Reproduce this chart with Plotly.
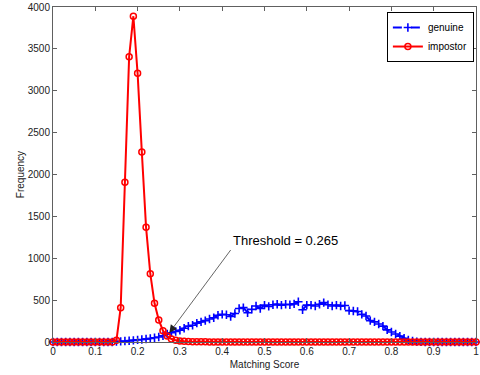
import numpy as np
import plotly.graph_objects as go

scores = [round(i * 0.01, 2) for i in range(101)]

genuine = [0]*15 + [
    5, 8, 12, 15, 20, 25, 30, 35, 42, 50,          # 0.15-0.24
    60, 75, 95, 110, 125, 140, 165, 190, 200, 225,  # 0.25-0.34
    240, 255, 275, 290, 320, 330, 325, 305, 340, 400,  # 0.35-0.44
    410, 350, 390, 430, 400, 440, 425, 445, 450, 440,  # 0.45-0.54
    450, 445, 455, 480, 385, 440, 440, 430, 450, 470,  # 0.55-0.64
    445, 430, 440, 430, 435, 375, 370, 365, 330, 310,  # 0.65-0.74
    255, 240, 215, 190, 145, 120, 95, 70, 45, 25,      # 0.75-0.84
    12, 5, 2] + [0]*13                                  # 0.85-1.00

impostor = [0]*15 + [
    20, 410, 1907, 3407, 3890, 3208, 2269, 1369, 815, 462,  # 0.15-0.24
    263, 135, 72, 35, 20, 12, 8, 5, 4, 3,                   # 0.25-0.34
    2, 2, 1, 1] + [0]*62

fig = go.Figure()
fig.add_trace(go.Scatter(
    x=scores, y=genuine, name="genuine", mode="lines+markers",
    line=dict(color="#0000ff", width=2, dash="dash"),
    marker=dict(symbol="cross-thin-open", size=6, line=dict(color="#0000ff", width=1.6)),
    cliponaxis=False))
fig.add_trace(go.Scatter(
    x=scores, y=impostor, name="impostor", mode="lines+markers",
    line=dict(color="#ff0000", width=2),
    marker=dict(symbol="circle-open", size=6, color="#ff0000", line=dict(color="#ff0000", width=1.5)),
    cliponaxis=False))

fig.add_annotation(
    x=0.275, y=110, xref="x", yref="y",
    ax=0.42, ay=1098, axref="x", ayref="y",
    text="Threshold = 0.265", showarrow=True,
    xanchor="left", yanchor="bottom",
    font=dict(family="Liberation Sans, Arial", size=13, color="black"),
    arrowcolor="#222222", arrowwidth=0.7, arrowhead=2, arrowsize=2.2,
)

axis_common = dict(
    showline=True, linecolor="#606060", linewidth=1, mirror="ticks",
    ticks="inside", ticklen=4, tickcolor="#606060",
    showgrid=False, zeroline=False, ticklabeloverflow="allow",
    tickfont=dict(family="Liberation Sans, Arial", size=10, color="#222"),
)

fig.update_layout(
    width=480, height=375,
    margin=dict(l=53, r=1, t=7, b=33),
    paper_bgcolor="white", plot_bgcolor="white",
    xaxis=dict(range=[0, 1], dtick=0.1, tick0=0,
               title=dict(text="Matching Score", standoff=4,
                          font=dict(family="Liberation Sans, Arial", size=10, color="#222")),
               **axis_common),
    yaxis=dict(range=[0, 4000], dtick=500, tick0=0,
               title=dict(text="Frequency", standoff=1,
                          font=dict(family="Liberation Sans, Arial", size=10, color="#222")),
               **axis_common),
    legend=dict(x=0.995, y=0.985, xanchor="right", yanchor="top",
                bordercolor="black", borderwidth=1, bgcolor="white",
                font=dict(family="Liberation Sans, Arial", size=10, color="black"),
                tracegroupgap=0, itemwidth=30),
    showlegend=True,
)

fig.write_html("out.html", config={"displayModeBar": False},
               post_script="document.body.style.margin='0';document.body.style.overflow='hidden';")
